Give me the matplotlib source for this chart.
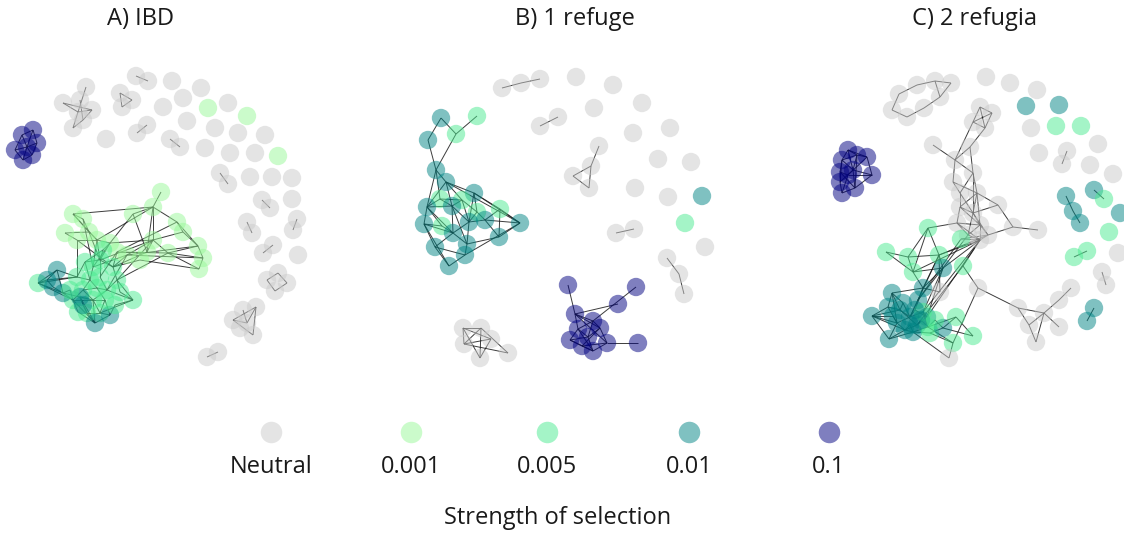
import matplotlib.pyplot as plt
from matplotlib.collections import LineCollection

plt.rcParams['font.family'] = ['Open Sans', 'DejaVu Sans']

# selection levels: 0 Neutral, 1 0.001, 2 0.005, 3 0.01, 4 0.1
levels = ["Neutral", "0.001", "0.005", "0.01", "0.1"]
level_colors = ["#cbcbcb", "#99f999", "#4beb91", "#008585", "#010181"]
titles = ["A) IBD", "B) 1 refuge", "C) 2 refugia"]

# ---- panel A: node layout (x, y, level) and edges ----
a_nodes = [
    (136, 76, 0), (148, 81, 0), (172, 81, 0), (201, 88, 0), (183, 98, 0),
    (228, 103, 0), (163, 107, 0), (208, 108, 1), (247, 116, 1), (187, 121, 0),
    (215, 128, 0), (238, 133, 0), (265, 135, 0), (137, 133, 0), (147, 125, 0),
    (106, 139, 0), (170, 139, 0), (180, 147, 0), (205, 148, 0), (230, 153, 0),
    (255, 153, 0), (278, 156, 1), (220, 173, 0), (228, 184, 0), (250, 177, 0),
    (272, 177, 0), (292, 178, 0), (262, 200, 0), (270, 208, 0), (292, 199, 0),
    (247, 222, 0), (252, 233, 0), (297, 219, 0), (293, 230, 0), (273, 245, 0),
    (263, 253, 0), (298, 255, 0), (267, 280, 0), (278, 273, 0), (287, 283, 0),
    (275, 291, 0), (233, 320, 0), (243, 310, 0), (256, 307, 0), (247, 323, 0),
    (253, 335, 0), (240, 328, 0), (207, 357, 0), (218, 352, 0), (63, 103, 0),
    (80, 100, 0), (92, 110, 0), (83, 120, 0), (73, 128, 0), (78, 112, 0),
    (86, 87, 0), (120, 93, 0), (132, 100, 0), (122, 107, 0),
    (33, 130, 4), (22, 135, 4), (37, 143, 4), (15, 150, 4), (32, 155, 4),
    (23, 160, 4), (27, 147, 4),
    (161, 192, 1), (153, 207, 1), (133, 214, 1), (177, 222, 1), (183, 232, 1),
    (198, 246, 1), (203, 258, 1), (199, 269, 1), (168, 253, 1), (147, 252, 1),
    (73, 214, 1), (83, 219, 1), (89, 232, 1), (65, 233, 1), (97, 240, 1),
    (110, 243, 1), (77, 240, 1), (127, 255, 1), (117, 252, 1), (153, 240, 1),
    (140, 260, 1),
    (38, 283, 2), (133, 300, 2), (87, 313, 2), (100, 260, 2), (93, 267, 2),
    (77, 277, 2), (90, 280, 2), (100, 277, 2), (83, 290, 2), (107, 290, 2),
    (93, 300, 2), (73, 300, 2), (100, 313, 2), (113, 267, 2), (117, 280, 2),
    (57, 270, 3), (47, 280, 3), (63, 293, 3), (80, 297, 3), (95, 323, 3),
    (110, 315, 3), (53, 287, 3),
    (85, 262, 2), (105, 300, 2), (78, 312, 2), (97, 288, 2), (115, 305, 2),
    (70, 290, 2), (83, 305, 3), (120, 292, 2), (103, 250, 2),
]
a_edges = [
    (0, 1), (13, 14), (16, 17), (22, 23), (27, 28), (30, 31), (32, 33), (34, 35),
    (37, 38), (38, 39), (39, 40), (40, 37), (41, 43), (43, 45), (41, 45), (42, 44),
    (41, 44), (44, 43), (47, 48),
    (55, 54), (49, 51), (54, 53), (51, 52), (54, 51), (49, 54), (52, 53), (50, 52),
    (56, 57), (57, 58), (58, 56),
    (59, 60), (59, 61), (60, 65), (61, 65), (62, 65), (63, 65), (62, 64), (63, 64),
    (60, 62), (61, 63), (59, 65), (64, 65),
    (66, 67), (67, 68), (68, 81), (67, 69), (67, 85), (69, 70), (70, 71), (71, 72),
    (72, 73), (69, 71), (70, 85), (71, 74), (72, 74), (73, 74), (74, 85), (85, 83),
    (75, 85), (75, 84), (74, 84), (67, 75), (68, 75), (71, 83), (72, 83), (73, 86),
    (86, 100), (83, 100), (84, 100), (75, 100), (85, 101), (74, 101), (76, 77),
    (76, 78), (77, 78), (79, 78), (78, 80), (80, 81), (76, 80), (82, 80), (79, 82),
    (78, 90), (80, 90), (81, 90), (81, 91), (80, 91), (82, 92), (77, 91), (84, 94),
    (83, 96), (90, 100), (100, 101), (101, 96), (90, 94), (91, 93), (92, 93),
    (93, 95), (94, 96), (95, 97), (96, 97), (97, 99), (98, 97), (98, 95), (89, 99),
    (88, 101), (88, 96), (88, 99), (87, 102), (87, 103), (87, 104), (102, 103),
    (103, 108), (108, 104), (102, 92), (103, 92), (104, 98), (104, 105), (105, 97),
    (105, 106), (106, 107), (107, 99), (106, 89), (89, 105), (97, 106), (98, 106),
    (102, 104), (87, 92), (87, 98), (80, 67), (81, 85), (90, 85), (91, 83),
    (76, 67), (82, 100), (84, 69),
    (109, 90), (109, 92), (109, 93), (110, 97), (110, 99), (110, 107), (111, 98),
    (111, 106), (112, 95), (112, 96), (113, 107), (113, 88), (114, 98), (114, 104),
    (115, 105), (115, 89), (116, 101), (116, 88), (117, 90), (117, 81), (112, 93),
    (110, 112), (109, 117),
]

# ---- panel B ----
b_nodes = [
    (502, 88, 0), (521, 83, 0), (540, 79, 0), (576, 77, 0), (613, 85, 0),
    (594, 108, 0), (642, 103, 0), (540, 126, 0), (558, 117, 0), (633, 133, 0),
    (670, 128, 0), (599, 146, 0), (573, 176, 0), (591, 166, 0), (589, 188, 0),
    (658, 159, 0), (691, 162, 0), (635, 188, 0), (668, 197, 0), (702, 196, 3),
    (685, 223, 2), (616, 233, 0), (634, 229, 0), (705, 247, 0), (667, 258, 0),
    (679, 274, 0), (684, 294, 0),
    (463, 328, 0), (481, 328, 0), (491, 339, 0), (464, 344, 0), (480, 358, 0),
    (508, 353, 0),
    (441, 118, 3), (428, 140, 3), (477, 116, 2), (456, 134, 2), (436, 170, 3),
    (446, 182, 3), (474, 193, 3), (440, 199, 2), (462, 200, 2), (427, 207, 3),
    (452, 206, 3), (477, 212, 2), (500, 209, 2), (424, 224, 3), (442, 226, 2),
    (469, 222, 3), (485, 220, 3), (520, 223, 3), (453, 233, 3), (499, 237, 3),
    (435, 247, 3), (467, 244, 3), (465, 255, 3), (449, 266, 3),
    (568, 285, 4), (636, 287, 4), (618, 304, 4), (575, 314, 4), (593, 321, 4),
    (600, 328, 4), (578, 329, 4), (570, 340, 4), (582, 346, 4), (593, 351, 4),
    (607, 343, 4), (638, 343, 4), (588, 337, 4),
]
b_edges = [
    (0, 1), (1, 2), (7, 8), (11, 13), (12, 13), (13, 14), (14, 12), (21, 22),
    (24, 25), (25, 26),
    (27, 28), (27, 31), (28, 31), (28, 30), (27, 29), (28, 32), (30, 29), (31, 29),
    (30, 32), (27, 30),
    (33, 34), (33, 36), (35, 36), (36, 37), (34, 37), (37, 38), (38, 39), (38, 42),
    (37, 42), (38, 43), (38, 41), (39, 44), (39, 45), (39, 50), (38, 50), (39, 48),
    (40, 42), (40, 43), (41, 43), (42, 46), (42, 43), (43, 48), (43, 51), (44, 49),
    (45, 49), (45, 50), (46, 53), (46, 51), (46, 47), (47, 51), (48, 49), (48, 51),
    (49, 50), (49, 52), (50, 52), (50, 55), (51, 54), (51, 53), (52, 54), (53, 56),
    (54, 55), (55, 56), (53, 55), (42, 47), (46, 56), (41, 48), (40, 41), (37, 40),
    (44, 48), (43, 54), (48, 54), (42, 51), (45, 52), (41, 44),
    (57, 60), (58, 61), (59, 60), (60, 61), (60, 62), (60, 63), (61, 62), (61, 69),
    (62, 67), (63, 64), (63, 69), (64, 65), (65, 66), (66, 67), (67, 68), (66, 69),
    (64, 69), (62, 69), (61, 63), (60, 67), (65, 67), (63, 66), (64, 66), (62, 65),
]

# ---- panel C ----
c_nodes = [
    (899, 94, 0), (917, 85, 0), (935, 81, 0), (951, 83, 0), (940, 97, 0),
    (924, 108, 0), (907, 117, 0), (892, 110, 0), (986, 77, 0), (1010, 83, 0),
    (1037, 90, 0), (1026, 106, 3), (1059, 105, 3), (1056, 126, 2), (1081, 126, 2),
    (1031, 128, 0), (1098, 144, 0), (1039, 153, 0), (1067, 151, 0), (1062, 164, 0),
    (1090, 165, 0), (1113, 174, 0), (1094, 190, 3), (1104, 199, 2), (1066, 196, 3),
    (1073, 211, 3), (1080, 223, 3), (1120, 213, 3), (1109, 232, 2), (1074, 257, 2),
    (1087, 251, 2), (1118, 253, 0), (1102, 272, 0), (1106, 285, 0), (1094, 308, 3),
    (1087, 321, 3),
    (1018, 308, 0), (1029, 325, 0), (1036, 342, 0), (1044, 313, 0), (1059, 327, 0),
    (1071, 288, 0), (1059, 300, 0),
    (980, 107, 0), (992, 113, 0), (973, 122, 0), (985, 128, 0), (933, 145, 0),
    (970, 147, 0), (955, 160, 0), (953, 182, 0), (973, 173, 0), (960, 193, 0),
    (977, 193, 0), (960, 207, 0), (998, 205, 0), (973, 213, 0), (957, 223, 0),
    (980, 225, 0), (988, 235, 0), (968, 235, 0), (980, 240, 0), (1013, 227, 0),
    (1038, 230, 0),
    (928, 228, 2), (961, 239, 2), (886, 252, 2), (908, 257, 2), (939, 255, 2),
    (913, 272, 2), (943, 268, 3), (963, 266, 2), (978, 288, 0), (940, 292, 0),
    (923, 288, 3), (892, 293, 3), (918, 300, 3), (888, 307, 3), (900, 310, 3),
    (910, 317, 3), (897, 323, 3), (917, 325, 3), (905, 330, 3), (927, 317, 3),
    (923, 312, 2), (928, 327, 2), (872, 316, 3), (889, 339, 3), (913, 332, 3),
    (930, 333, 2), (943, 328, 3), (956, 317, 2), (973, 336, 2), (953, 343, 2),
    (949, 358, 0),
    (848, 150, 4), (867, 157, 4), (857, 155, 4), (842, 160, 4), (872, 175, 4),
    (840, 172, 4), (853, 170, 4), (840, 182, 4), (855, 188, 4), (842, 193, 4),
    (848, 175, 4),
    (903, 303, 3), (915, 310, 3), (893, 316, 3), (921, 320, 3), (910, 325, 3),
    (935, 320, 2),
]
c_edges = [
    (7, 0), (0, 1), (1, 2), (2, 3), (3, 4), (4, 5), (5, 6), (6, 7), (2, 4),
    (18, 19), (22, 23), (24, 25), (25, 26), (29, 30), (32, 33), (34, 35),
    (36, 37), (36, 39), (37, 39), (37, 38), (38, 39), (39, 40), (42, 39), (41, 42),
    (43, 44), (43, 45), (44, 46), (45, 46), (43, 46), (44, 45),
    (45, 49), (46, 48), (48, 49), (47, 49), (48, 51), (49, 50), (49, 51), (50, 52),
    (50, 53), (51, 53), (51, 52), (52, 54), (53, 54), (53, 56), (52, 56), (54, 56),
    (54, 57), (56, 58), (55, 53), (55, 56), (55, 62), (62, 63), (62, 59), (57, 58),
    (57, 60), (58, 59), (58, 61), (59, 61), (60, 61), (56, 60), (57, 61), (58, 60),
    (56, 59), (54, 58), (53, 58), (51, 56),
    (64, 57), (65, 59), (65, 61), (64, 68), (68, 59), (68, 61), (69, 61), (70, 61),
    (70, 60), (71, 61), (71, 72), (72, 93), (72, 36),
    (66, 67), (66, 69), (67, 68), (67, 69), (68, 70), (69, 70), (68, 74), (69, 74),
    (70, 74), (64, 69), (64, 67), (73, 74), (73, 68), (74, 76), (74, 75), (76, 79),
    (75, 77), (75, 78), (77, 78), (78, 79), (79, 80), (80, 82), (81, 82), (81, 83),
    (83, 84), (84, 85), (85, 88), (86, 77), (86, 80), (86, 82), (86, 78), (87, 80),
    (87, 82), (87, 88), (88, 89), (89, 90), (90, 91), (91, 92), (90, 92), (91, 85),
    (89, 93), (93, 94), (88, 94), (85, 93), (84, 70), (83, 70), (76, 70), (79, 68),
    (81, 71), (83, 61), (84, 61), (76, 65), (79, 84), (77, 80), (78, 81), (75, 80),
    (82, 88), (86, 87),
    (95, 96), (95, 97), (95, 98), (96, 97), (96, 99), (97, 101), (98, 100), (98, 101),
    (99, 101), (99, 103), (100, 102), (101, 102), (101, 103), (102, 104), (103, 104),
    (105, 99), (105, 100), (105, 104), (95, 101), (96, 105), (97, 98), (100, 103),
    (98, 102), (97, 103),
    (106, 78), (106, 79), (107, 79), (107, 83), (108, 80), (108, 86), (109, 81),
    (109, 85), (110, 82), (110, 88), (111, 85), (111, 90), (106, 75), (107, 74),
]

fig = plt.figure(figsize=(11.24, 5.35), dpi=100)
ax = fig.add_axes([0, 0, 1, 1])
ax.set_xlim(0, 1124)
ax.set_ylim(535, 0)
ax.axis("off")

for nodes, edges in [(a_nodes, a_edges), (b_nodes, b_edges), (c_nodes, c_edges)]:
    segs = [[nodes[i][:2], nodes[j][:2]] for i, j in edges]
    ax.add_collection(LineCollection(segs, colors="#1a1a1a", linewidths=0.7,
                                     alpha=0.85, zorder=1))
    xs = [n[0] for n in nodes]
    ys = [n[1] for n in nodes]
    cs = [level_colors[n[2]] for n in nodes]
    ax.scatter(xs, ys, s=175, c=cs, alpha=0.5, linewidths=0, zorder=2)

for title, tx in zip(titles, [141, 575, 975]):
    ax.text(tx, 19, title, ha="center", va="center", fontsize=17, color="#1a1a1a")

# legend
for lab, col, lx in zip(levels, level_colors, [271, 411, 547, 689, 829]):
    ax.scatter([lx], [432], s=240, c=col, alpha=0.5, linewidths=0)
    ax.text(lx, 467, lab, ha="center", va="center", fontsize=17, color="#1a1a1a")
ax.text(558, 518, "Strength of selection", ha="center", va="center",
        fontsize=17, color="#1a1a1a")

fig.savefig("out.png", dpi=100)
